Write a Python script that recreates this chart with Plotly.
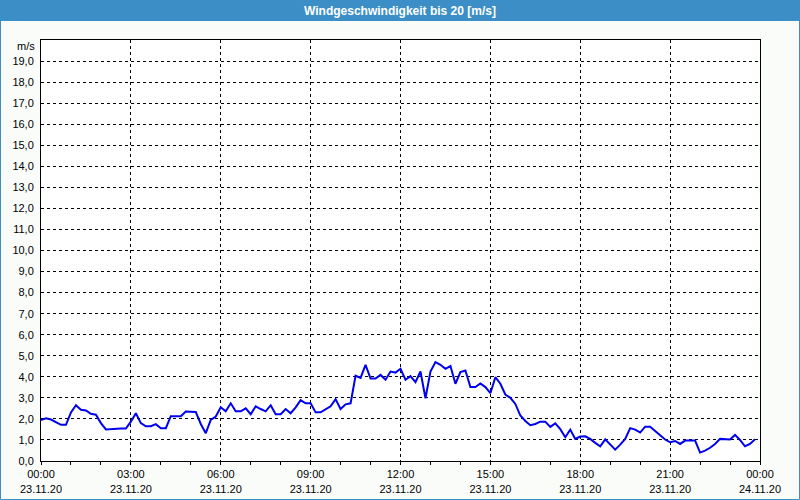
import pandas as pd
import plotly.graph_objects as go

# Wind speed [m/s], 10-minute values from 23.11.20 00:00 to 23:50
wind = [
    1.95, 2.03, 1.97, 1.84, 1.72, 1.72, 2.31, 2.65, 2.43, 2.40, 2.24, 2.20,
    1.80, 1.50, 1.52, 1.54, 1.54, 1.54, 1.87, 2.27, 1.80, 1.65, 1.65, 1.75,
    1.56, 1.56, 2.13, 2.13, 2.13, 2.35, 2.33, 2.33, 1.76, 1.32, 1.95, 2.11,
    2.55, 2.36, 2.74, 2.36, 2.36, 2.50, 2.22, 2.60, 2.47, 2.36, 2.65, 2.22,
    2.22, 2.47, 2.27, 2.55, 2.89, 2.74, 2.74, 2.31, 2.31, 2.47, 2.60, 2.94,
    2.47, 2.69, 2.74, 4.05, 3.95, 4.57, 3.92, 3.92, 4.09, 3.86, 4.25, 4.20,
    4.38, 3.86, 4.03, 3.75, 4.25, 2.98, 4.25, 4.70, 4.57, 4.38, 4.51, 3.67,
    4.22, 4.30, 3.51, 3.51, 3.68, 3.51, 3.22, 3.98, 3.67, 3.16, 3.00, 2.71,
    2.16, 1.90, 1.70, 1.76, 1.87, 1.87, 1.62, 1.79, 1.51, 1.13, 1.49, 1.05,
    1.16, 1.17, 1.05, 0.86, 0.70, 1.03, 0.76, 0.54, 0.78, 1.05, 1.56, 1.49,
    1.35, 1.63, 1.63, 1.44, 1.24, 1.02, 0.89, 0.95, 0.81, 0.97, 0.97, 0.97,
    0.40, 0.49, 0.63, 0.81, 1.05, 1.02, 1.02, 1.24, 1.00, 0.70, 0.81, 1.03,
]
times = pd.date_range("2020-11-23 00:00", periods=len(wind), freq="10min")

x_tickvals = pd.date_range("2020-11-23 00:00", "2020-11-24 00:00", freq="3h")
x_ticktext = [f"{t:%H:%M}<br>{t:%d.%m.%y}" for t in x_tickvals]
y_tickvals = list(range(0, 20))
y_ticktext = [f"{v},0" for v in y_tickvals]
title_text = "Windgeschwindigkeit bis 20 [m/s]"
unit_text = "m/s"

W, H = 800, 500
L, R, T, B = 41, 40, 40, 39
PW, PH = W - L - R, H - T - B


def px(x):
    return (x - L) / PW


def py(y):
    return (H - B - y) / PH


FONT = "Liberation Sans, Arial, sans-serif"
BLUE = "#3c8fc6"

fig = go.Figure()
fig.add_trace(go.Scatter(x=times, y=wind, mode="lines",
                         line=dict(color="#0000f0", width=2),
                         hoverinfo="skip", showlegend=False))

fig.update_layout(
    width=W, height=H,
    margin=dict(l=L, r=R, t=T, b=B, pad=0, autoexpand=False),
    paper_bgcolor="#fafcfa",
    plot_bgcolor="#ffffff",
    font=dict(family=FONT, size=11, color="#000000"),
    xaxis=dict(
        range=[x_tickvals[0], x_tickvals[-1]],
        tickmode="array", tickvals=list(x_tickvals), ticktext=x_ticktext,
        showgrid=True, gridcolor="#000000", gridwidth=1, griddash="3px,3px",
        showline=True, linecolor="#000000", linewidth=1, mirror=True,
        ticks="outside", ticklen=3, tickcolor="#000000",
        minor=dict(dtick=3600000, tick0=x_tickvals[0], ticks="outside",
                   ticklen=3, tickcolor="#000000", showgrid=False),
        zeroline=False, fixedrange=True, automargin=False,
    ),
    yaxis=dict(
        range=[0, 20],
        tickmode="array", tickvals=y_tickvals, ticktext=y_ticktext,
        showgrid=True, gridcolor="#000000", gridwidth=1, griddash="3px,3px",
        showline=True, linecolor="#000000", linewidth=1, mirror=True,
        ticks="", ticklabelstandoff=4,
        zeroline=False, fixedrange=True, automargin=False,
    ),
    shapes=[
        dict(type="rect", xref="paper", yref="paper",
             x0=px(0), x1=px(W), y0=py(0), y1=py(21),
             fillcolor=BLUE, line=dict(width=0), layer="below"),
        dict(type="rect", xref="paper", yref="paper",
             x0=px(0.5), x1=px(W - 0.5), y0=py(0.5), y1=py(H - 0.5),
             fillcolor="rgba(0,0,0,0)", line=dict(color=BLUE, width=1)),
    ],
    annotations=[
        dict(text=f"<b>{title_text}</b>", xref="paper", yref="paper",
             x=px(W / 2), y=py(10.5), xanchor="center", yanchor="middle",
             showarrow=False, font=dict(family=FONT, size=12, color="#ffffff")),
        dict(text=unit_text, xref="paper", yref="paper",
             x=px(37), y=py(46), xanchor="right", yanchor="middle",
             showarrow=False, font=dict(family=FONT, size=11, color="#000000")),
    ],
)

fig.write_html("out.html")
